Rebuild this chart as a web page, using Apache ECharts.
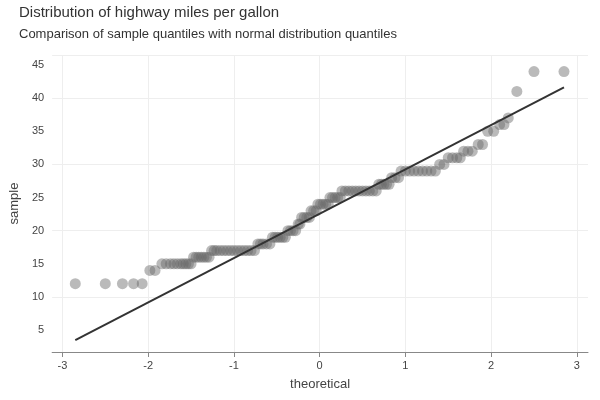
<!DOCTYPE html>
<html><head><meta charset="utf-8">
<script src="https://cdn.jsdelivr.net/npm/echarts@6/dist/echarts.min.js"></script>
<style>html,body{margin:0;padding:0;background:#fff}#c{width:600px;height:400px}</style>
</head><body><div id="c"></div>
<script>
// theoretical quantiles, paired with sample values
const theoretical = [
  -2.85,-2.5,-2.3,-2.17,-2.07,
  -1.98,-1.92,
  -1.84,-1.79,-1.74,-1.7,-1.66,-1.62,-1.59,-1.56,-1.53,-1.5,
  -1.47,-1.44,-1.41,-1.38,-1.35,-1.32,-1.29,
  -1.26,-1.23,-1.2,-1.16,-1.12,-1.08,-1.04,-1.0,-0.96,-0.92,-0.88,-0.84,-0.8,-0.76,
  -0.72,-0.69,-0.66,-0.62,-0.58,
  -0.55,-0.52,-0.49,-0.46,-0.43,-0.4,
  -0.37,-0.34,-0.31,-0.28,
  -0.25,-0.23,
  -0.21,-0.18,-0.15,-0.12,
  -0.1,-0.07,-0.04,
  -0.02,0.01,0.04,0.07,0.1,
  0.12,0.15,0.18,0.21,0.24,
  0.26,0.3,0.34,0.38,0.42,0.46,0.5,0.54,0.58,0.62,0.66,
  0.69,0.72,0.75,0.78,0.81,
  0.84,0.88,0.92,
  0.95,1.0,1.05,1.1,1.15,1.2,1.25,1.3,1.35,
  1.4,1.45,
  1.5,1.55,1.6,1.64,
  1.68,1.73,1.78,
  1.85,1.9,
  1.96,2.03,
  2.1,2.15,
  2.2,2.3,2.5,2.85
];
const sample = [
  12,12,12,12,12,
  14,14,
  15,15,15,15,15,15,15,15,15,15,
  16,16,16,16,16,16,16,
  17,17,17,17,17,17,17,17,17,17,17,17,17,17,
  18,18,18,18,18,
  19,19,19,19,19,19,
  20,20,20,20,
  21,21,
  22,22,22,22,
  23,23,23,
  24,24,24,24,24,
  25,25,25,25,25,
  26,26,26,26,26,26,26,26,26,26,26,
  27,27,27,27,27,
  28,28,28,
  29,29,29,29,29,29,29,29,29,
  30,30,
  31,31,31,31,
  32,32,32,
  33,33,
  35,35,
  36,36,
  37,41,44,44
];
const xTicks = [-3, -2, -1, 0, 1, 2, 3];
const yTicks = [5, 10, 15, 20, 25, 30, 35, 40, 45];
const lineX = [-2.85, 2.85];
const lineY = [3.5, 41.6];

const chart = echarts.init(document.getElementById('c'));
chart.setOption({
  animation: false,
  textStyle: { fontFamily: '"Liberation Sans", Arial, sans-serif' },
  title: {
    text: 'Distribution of highway miles per gallon',
    subtext: 'Comparison of sample quantiles with normal distribution quantiles',
    left: 14, top: 0, itemGap: 8,
    textStyle: { fontSize: 15, fontWeight: 'normal', color: '#333' },
    subtextStyle: { fontSize: 13, color: '#333' }
  },
  grid: { left: 44, right: 12, top: 55, bottom: 48 },
  xAxis: {
    type: 'value', min: -3.12, max: 3.13,
    name: 'theoretical', nameLocation: 'middle', nameGap: 26,
    nameTextStyle: { fontSize: 13, color: '#444' },
    axisLabel: { color: '#444', fontSize: 11, customValues: xTicks },
    axisTick: { show: true, customValues: xTicks, lineStyle: { color: '#888' } },
    axisLine: { lineStyle: { color: '#888' } },
    splitLine: { lineStyle: { color: '#eee' }, customValues: xTicks }
  },
  yAxis: {
    type: 'value', min: 1.7, max: 46.5,
    name: 'sample', nameLocation: 'middle', nameGap: 26,
    nameTextStyle: { fontSize: 13, color: '#444' },
    axisLabel: { color: '#444', fontSize: 11, customValues: yTicks },
    axisTick: { show: false },
    axisLine: { show: false },
    splitLine: { lineStyle: { color: '#eee' }, customValues: yTicks }
  },
  series: [
    {
      type: 'scatter', symbolSize: 11,
      itemStyle: { color: '#666', opacity: 0.45 },
      data: theoretical.map((x, i) => [x, sample[i]])
    },
    {
      type: 'line', symbol: 'none',
      lineStyle: { color: '#333', width: 2 },
      data: lineX.map((x, i) => [x, lineY[i]])
    }
  ]
});
</script></body></html>
